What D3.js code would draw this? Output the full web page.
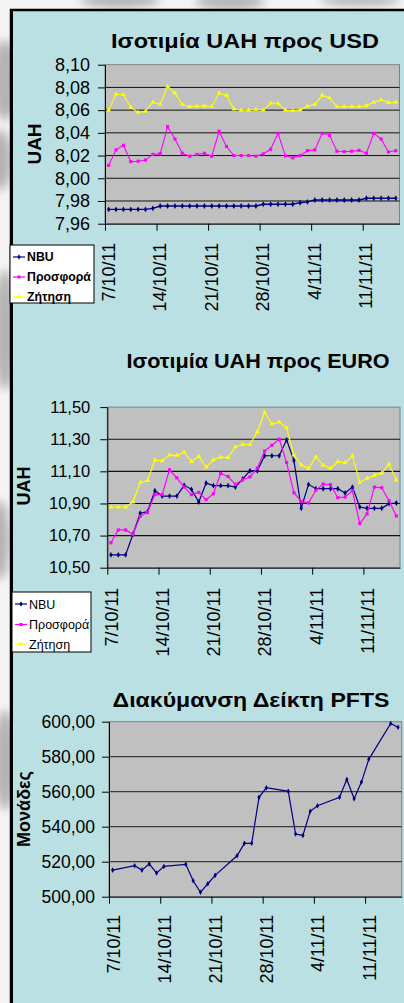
<!DOCTYPE html>
<html>
<head>
<meta charset="utf-8">
<script src="https://cdn.jsdelivr.net/npm/d3@7"></script>
<style>
  body { margin: 0; background: #f4f4f4; }
  svg { display: block; }
</style>
</head>
<body>
<svg id="chart" width="404" height="1003"></svg>
<script>
const font = "Arial, 'Liberation Sans', sans-serif";
const parseDay = d3.timeParse("%Y-%m-%d");

// daily categories 7/10/11 .. 15/11/11 (40 days)
const firstDay = new Date(2011, 9, 7);
const lastDay = new Date(2011, 10, 16);
const days = d3.timeDay.range(firstDay, lastDay);

const tickDates = ["2011-10-07", "2011-10-14", "2011-10-21", "2011-10-28", "2011-11-04", "2011-11-11"].map(parseDay);
const tickLabels = ["7/10/11", "14/10/11", "21/10/11", "28/10/11", "4/11/11", "11/11/11"];

const seriesNames = ["NBU", "Προσφορά", "Ζήτηση"];
const seriesColors = ["#000080", "#ff00ff", "#ffff00"];
const seriesSymbols = [d3.symbolDiamond, d3.symbolSquare, d3.symbolTriangle];

// UAH / USD
const usdTicks = [7.96, 7.98, 8.00, 8.02, 8.04, 8.06, 8.08, 8.10];
const usdNbu = [7.9726, 7.9726, 7.9726, 7.9726, 7.9726, 7.9726, 7.9735, 7.9756, 7.9756, 7.9756,
  7.9756, 7.9756, 7.9756, 7.9756, 7.9756, 7.9756, 7.9756, 7.9756, 7.9756, 7.9756,
  7.9756, 7.9771, 7.9771, 7.9771, 7.9771, 7.9771, 7.9785, 7.9792, 7.9809, 7.9809,
  7.9809, 7.9809, 7.9809, 7.9809, 7.9809, 7.9824, 7.9824, 7.9824, 7.9824, 7.9824];
const usdOffer = [8.0114, 8.0250, 8.0290, 8.0147, 8.0150, 8.0160, 8.0210, 8.0217, 8.0455, 8.0346,
  8.0220, 8.0194, 8.0210, 8.0220, 8.0194, 8.0414, 8.0280, 8.0200, 8.0200, 8.0200,
  8.0194, 8.0214, 8.0255, 8.0396, 8.0197, 8.0180, 8.0200, 8.0243, 8.0250, 8.0396,
  8.0378, 8.0238, 8.0235, 8.0238, 8.0246, 8.0220, 8.0396, 8.0346, 8.0232, 8.0243];
const usdDemand = [8.0600, 8.0740, 8.0736, 8.0625, 8.0580, 8.0590, 8.0670, 8.0650, 8.0810, 8.0750,
  8.0650, 8.0630, 8.0636, 8.0636, 8.0630, 8.0750, 8.0730, 8.0610, 8.0600, 8.0600,
  8.0607, 8.0600, 8.0660, 8.0660, 8.0600, 8.0595, 8.0600, 8.0636, 8.0650, 8.0730,
  8.0707, 8.0630, 8.0630, 8.0630, 8.0630, 8.0640, 8.0670, 8.0690, 8.0666, 8.0670];

// UAH / EURO
const euroTicks = [10.5, 10.7, 10.9, 11.1, 11.3, 11.5];
const euroNbu = [10.580, 10.580, 10.580, 10.708, 10.839, 10.849, 10.979, 10.946, 10.946, 10.946,
  11.013, 10.988, 10.909, 11.027, 11.011, 11.011, 11.011, 11.002, 11.052, 11.104,
  11.104, 11.197, 11.197, 11.197, 11.296, 11.168, 10.870, 11.019, 10.992, 10.992,
  10.992, 10.992, 10.965, 11.002, 10.878, 10.870, 10.870, 10.870, 10.899, 10.903];
const euroOffer = [10.655, 10.735, 10.735, 10.708, 10.820, 10.845, 10.955, 10.955, 11.110, 11.060,
  11.002, 10.955, 10.969, 10.924, 10.961, 11.087, 11.068, 11.019, 11.048, 11.065,
  11.120, 11.226, 11.263, 11.300, 11.155, 10.967, 10.913, 10.903, 10.982, 11.021,
  11.017, 10.936, 10.940, 10.979, 10.775, 10.835, 11.002, 10.998, 10.917, 10.822];
const euroDemand = [10.878, 10.878, 10.878, 10.909, 11.031, 11.042, 11.170, 11.166, 11.201, 11.199,
  11.219, 11.161, 11.193, 11.126, 11.172, 11.188, 11.186, 11.252, 11.267, 11.267,
  11.346, 11.468, 11.396, 11.406, 11.371, 11.201, 11.141, 11.118, 11.190, 11.139,
  11.118, 11.160, 11.153, 11.197, 11.031, 11.056, 11.075, 11.089, 11.145, 11.046];

// PFTS index (trading days only)
const pftsTicks = [500, 520, 540, 560, 580, 600];
const pftsDays = ["2011-10-07", "2011-10-10", "2011-10-11", "2011-10-12", "2011-10-13", "2011-10-14",
  "2011-10-17", "2011-10-18", "2011-10-19", "2011-10-20", "2011-10-21",
  "2011-10-24", "2011-10-25", "2011-10-26", "2011-10-27", "2011-10-28",
  "2011-10-31", "2011-11-01", "2011-11-02", "2011-11-03", "2011-11-04",
  "2011-11-07", "2011-11-08", "2011-11-09", "2011-11-10", "2011-11-11",
  "2011-11-14", "2011-11-15"];
const pftsValues = [515.2, 517.7, 515.2, 518.7, 513.5, 517.3,
  518.5, 509.1, 502.5, 507.4, 512.2,
  523.4, 530.5, 530.5, 556.8, 562.3,
  560.2, 535.8, 535.0, 548.8, 552.0,
  556.8, 567.0, 556.0, 565.5, 578.5,
  599.0, 596.8];

const svg = d3.select("#chart");

// faded backdrop behind the panel
const defs = svg.append("defs");
defs.append("filter").attr("id", "blur").append("feGaussianBlur").attr("stdDeviation", 5);
const backdrop = svg.append("g").attr("filter", "url(#blur)").attr("fill", "#b4b4b4");
[[5, 80, 14, 40], [0, 160, 12, 30], [5, 330, 12, 60], [0, 540, 10, 40], [5, 760, 12, 50],
 [120, 0, 40, 8], [230, 2, 35, 8], [360, 0, 40, 6]].forEach(b => {
  backdrop.append("ellipse").attr("cx", b[0]).attr("cy", b[1]).attr("rx", b[2]).attr("ry", b[3]);
});

// panel
svg.append("rect")
  .attr("x", 11).attr("y", 10).attr("width", 420).attr("height", 1020)
  .attr("fill", "#bbe0e3").attr("stroke", "#000").attr("stroke-width", 2.5);
svg.append("line").attr("x1", 11.5).attr("x2", 11.5).attr("y1", 9).attr("y2", 1003)
  .attr("stroke", "#000").attr("stroke-width", 3);

function drawChart(c) {
  const x = d3.scaleTime().domain([firstDay, lastDay]).range([c.left, c.right]);
  const y = d3.scaleLinear().domain([c.ticks[0], c.ticks[c.ticks.length - 1]]).range([c.bottom, c.top]);
  const g = svg.append("g");

  g.append("rect")
    .attr("x", c.left).attr("y", c.top)
    .attr("width", c.right - c.left).attr("height", c.bottom - c.top)
    .attr("fill", "#c0c0c0").attr("stroke", "#808080");

  g.append("g").selectAll("line").data(c.ticks.slice(1, -1)).join("line")
    .attr("x1", c.left).attr("x2", c.right)
    .attr("y1", d => y(d)).attr("y2", d => y(d))
    .attr("stroke", c.gridColor).attr("stroke-width", c.gridWidth);

  const yAxis = d3.axisLeft(y).tickValues(c.ticks).tickSize(7).tickSizeOuter(0).tickPadding(c.yPad)
    .tickFormat(d => d3.format(".2f")(d).replace(".", ","));
  const ya = g.append("g").attr("transform", `translate(${c.left},0)`).call(yAxis);
  ya.selectAll("line, path").attr("stroke", "#000");
  ya.selectAll("text").attr("font-family", font).attr("font-size", c.yFont).attr("fill", "#000");

  const xAxis = d3.axisBottom(x).tickValues(tickDates).tickSize(7).tickSizeOuter(0)
    .tickFormat((d, i) => tickLabels[i]);
  const xa = g.append("g").attr("transform", `translate(0,${c.bottom})`).call(xAxis);
  xa.selectAll("line, path").attr("stroke", "#000");
  xa.selectAll("text")
    .attr("transform", "rotate(-90)")
    .attr("text-anchor", "end")
    .attr("x", -c.xGap).attr("y", c.xShift).attr("dy", null)
    .attr("font-family", font).attr("font-size", 18).attr("fill", "#000");

  const line = d3.line()
    .x(d => x(d3.timeHour.offset(d.date, 12)))
    .y(d => y(d.value));

  c.series.forEach(s => {
    const pts = s.values.map((v, i) => ({ date: s.dates[i], value: v }));
    g.append("path").datum(pts)
      .attr("fill", "none").attr("stroke", s.color).attr("stroke-width", s.width || 1.1)
      .attr("d", line);
    g.append("g").selectAll("path").data(pts).join("path")
      .attr("transform", d => `translate(${x(d3.timeHour.offset(d.date, 12))},${y(d.value)})`)
      .attr("d", d3.symbol().type(s.symbol).size(s.size || 10))
      .attr("fill", s.color);
  });

  g.append("text")
    .attr("transform", `translate(${c.titleX},${c.titleY}) scale(${c.titleStretch},1)`)
    .attr("text-anchor", "middle")
    .attr("font-family", font).attr("font-weight", "bold").attr("font-size", 21)
    .text(c.title);

  g.append("text")
    .attr("transform", `translate(${c.labelX},${c.labelY}) rotate(-90)`)
    .attr("text-anchor", "middle").attr("dy", "0.35em")
    .attr("font-family", font).attr("font-weight", "bold").attr("font-size", c.labelFont)
    .text(c.label);

  if (c.legend) {
    const L = c.legend;
    const lg = svg.append("g");
    lg.append("rect")
      .attr("x", L.x).attr("y", L.y).attr("width", L.w).attr("height", L.h)
      .attr("fill", "#fff").attr("stroke", "#000");
    c.series.forEach((s, i) => {
      const ry = L.rows[i];
      lg.append("line").attr("x1", L.x + 3).attr("x2", L.x + 15).attr("y1", ry).attr("y2", ry)
        .attr("stroke", s.color).attr("stroke-width", 1.2);
      lg.append("path").attr("transform", `translate(${L.x + 9},${ry})`)
        .attr("d", d3.symbol().type(s.symbol).size(9)).attr("fill", s.color);
      lg.append("text").attr("x", L.x + 17).attr("y", ry).attr("dy", "0.36em")
        .attr("font-family", font).attr("font-size", L.font)
        .attr("font-weight", L.bold ? "bold" : "normal")
        .text(s.name);
    });
  }
}

const usdSeries = [usdNbu, usdOffer, usdDemand].map((vals, i) => ({
  name: seriesNames[i], color: seriesColors[i], symbol: seriesSymbols[i],
  values: vals, dates: days, width: i === 0 ? 1.4 : 1.1
}));
const euroSeries = [euroNbu, euroOffer, euroDemand].map((vals, i) => ({
  name: seriesNames[i], color: seriesColors[i], symbol: seriesSymbols[i],
  values: vals, dates: days, width: 1.2
}));

drawChart({
  left: 105, right: 399.5, top: 64.7, bottom: 223.7, ticks: usdTicks,
  gridColor: "#111", gridWidth: 1, yPad: 8, yFont: 18, xGap: 19, xShift: 9,
  title: "Ισοτιμία UAH προς USD", titleX: 245, titleY: 48, titleStretch: 1.12,
  label: "UAH", labelX: 34, labelY: 144, labelFont: 19,
  series: usdSeries,
  legend: { x: 10, y: 245, w: 84, h: 58, rows: [257, 277, 297], bold: true, font: 12.3 }
});

drawChart({
  left: 107.3, right: 400, top: 407.1, bottom: 567.7, ticks: euroTicks,
  gridColor: "#111", gridWidth: 1.1, yPad: 10, yFont: 16.5, xGap: 20, xShift: 10,
  title: "Ισοτιμία UAH προς EURO", titleX: 258, titleY: 368, titleStretch: 1.03,
  label: "UAH", labelX: 24, labelY: 486, labelFont: 18,
  series: euroSeries,
  legend: { x: 12, y: 592, w: 79, h: 60, rows: [604, 624.5, 644], bold: false, font: 12.5 }
});

drawChart({
  left: 109, right: 401.7, top: 721.7, bottom: 896.7, ticks: pftsTicks,
  gridColor: "#3a3a3a", gridWidth: 1.3, yPad: 7, yFont: 17.5, xGap: 18, xShift: 10,
  title: "Διακύμανση Δείκτη PFTS", titleX: 251, titleY: 707, titleStretch: 1.1,
  label: "Μονάδες", labelX: 24, labelY: 809, labelFont: 18,
  series: [{ name: "PFTS", color: "#000080", symbol: d3.symbolDiamond, size: 9,
    values: pftsValues, dates: pftsDays.map(parseDay), width: 1.2 }]
});
</script>
</body>
</html>
